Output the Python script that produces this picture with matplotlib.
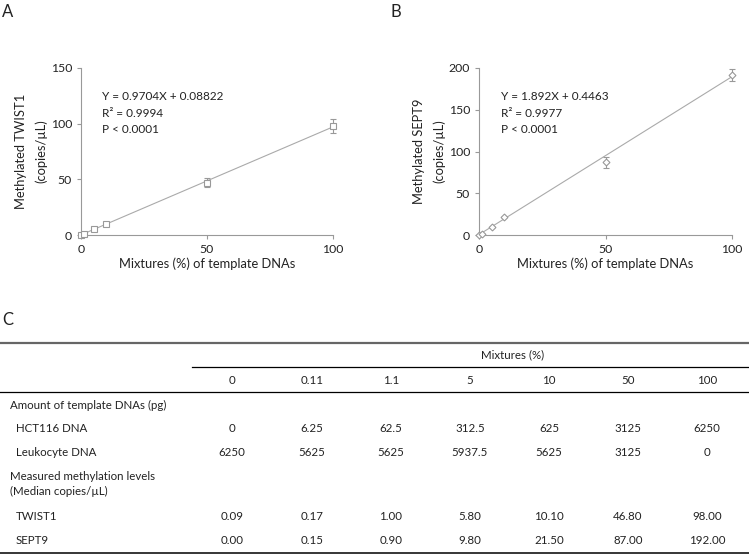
import matplotlib
matplotlib.use('Agg')
import matplotlib.pyplot as plt
from matplotlib.lines import Line2D

plt.rcParams['font.family'] = ['Lato', 'DejaVu Sans']

# panel A / B data
mix_pts = [0, 1.1, 5, 10, 50, 100]
twist1_pts = [0.09, 1.00, 5.80, 10.10, 46.80, 98.00]
twist1_err = [0, 0, 0, 0, 4, 6]
sept9_pts = [0.00, 0.90, 9.80, 21.50, 87.00, 192.00]
sept9_err = [0, 0, 0, 0, 7, 7]
twist1_fit = (0.9704, 0.08822)
sept9_fit = (1.892, 0.4463)

# panel C table
mix_cols = ['0', '0.11', '1.1', '5', '10', '50', '100']
hct116 = ['0', '6.25', '62.5', '312.5', '625', '3125', '6250']
leuko = ['6250', '5625', '5625', '5937.5', '5625', '3125', '0']
twist1_med = ['0.09', '0.17', '1.00', '5.80', '10.10', '46.80', '98.00']
sept9_med = ['0.00', '0.15', '0.90', '9.80', '21.50', '87.00', '192.00']

W, H = 749, 555
fig = plt.figure(figsize=(W / 100, H / 100), dpi=100)

def fx(px):
    return px / W

def fy(py):
    return 1 - py / H

gray = '#999999'
txt = '#222222'

def panel(rect, y, err, fit, marker, ms, ymax, yticks, ylabel, eq, r2):
    ax = fig.add_axes(rect)
    xs = [0, 100]
    ax.plot(xs, [fit[0] * x + fit[1] for x in xs], color='#aaaaaa', lw=0.8)
    ax.errorbar(mix_pts, y, yerr=err, fmt=marker, ms=ms, mfc='white',
                mec='#999999', mew=0.8, ecolor='#999999', elinewidth=0.8,
                capsize=2.5, capthick=0.8, clip_on=False, zorder=3)
    ax.set_xlim(0, 100)
    ax.set_ylim(0, ymax)
    ax.set_xticks([0, 50, 100])
    ax.set_yticks(yticks)
    for s in ['top', 'right']:
        ax.spines[s].set_visible(False)
    for s in ['left', 'bottom']:
        ax.spines[s].set_color(gray)
        ax.spines[s].set_linewidth(0.8)
    ax.tick_params(colors=gray, labelcolor=txt, labelsize=8.8, length=3, width=0.8)
    ax.set_xlabel('Mixtures (%) of template DNAs', fontsize=9.3, color=txt, labelpad=2)
    ax.set_ylabel(ylabel, fontsize=9.3, color=txt, labelpad=2, linespacing=1.75)
    ax.text(0.085, 0.73, eq + '\nR\u00b2 = ' + r2 + '\nP < 0.0001',
            transform=ax.transAxes, fontsize=8.5, color=txt, va='center',
            linespacing=1.6)
    return ax

panel([fx(81), fy(235), fx(333) - fx(81), fy(68) - fy(235)],
      twist1_pts, twist1_err, twist1_fit, 's', 5, 150, [0, 50, 100, 150],
      'Methylated TWIST1\n(copies/\u00b5L)', 'Y = 0.9704X + 0.08822', '0.9994')
panel([fx(479), fy(235), fx(732) - fx(479), fy(68) - fy(235)],
      sept9_pts, sept9_err, sept9_fit, 'D', 3.5, 200, [0, 50, 100, 150, 200],
      'Methylated SEPT9\n(copies/\u00b5L)', 'Y = 1.892X + 0.4463', '0.9977')

fig.text(fx(2), fy(12), 'A', fontsize=12, color=txt, va='center')
fig.text(fx(390), fy(12), 'B', fontsize=12, color=txt, va='center')
fig.text(fx(2), fy(320), 'C', fontsize=12, color=txt, va='center')

# table rules
def hline(x0, x1, py, color='black', lw=0.9):
    fig.add_artist(Line2D([fx(x0), fx(x1)], [fy(py), fy(py)], color=color, lw=lw))

hline(0, 749, 343, color='#666666', lw=1.6)
hline(192, 749, 367)
hline(0, 749, 392)
hline(0, 749, 553, lw=1.1)

col_x = [232, 312, 391, 470, 549, 628, 707]
fs = 8.3
fig.text(fx(513), fy(355), 'Mixtures (%)', fontsize=fs, color=txt, ha='center', va='center')
for cx, lab in zip(col_x, mix_cols):
    fig.text(fx(cx), fy(380), lab, fontsize=fs, color=txt, ha='center', va='center')

fig.text(fx(10), fy(405), 'Amount of template DNAs (pg)', fontsize=fs, color=txt, va='center')
fig.text(fx(10), fy(484), 'Measured methylation levels\n(Median copies/\u00b5L)', fontsize=fs,
         color=txt, va='center', linespacing=1.35)

rows = [('HCT116 DNA', hct116, 429), ('Leukocyte DNA', leuko, 452),
        ('TWIST1', twist1_med, 517), ('SEPT9', sept9_med, 541)]
for name, vals, py in rows:
    fig.text(fx(16), fy(py), name, fontsize=fs, color=txt, va='center')
    for cx, v in zip(col_x, vals):
        fig.text(fx(cx), fy(py), v, fontsize=fs, color=txt, ha='center', va='center')

fig.savefig('out.png', dpi=100)
